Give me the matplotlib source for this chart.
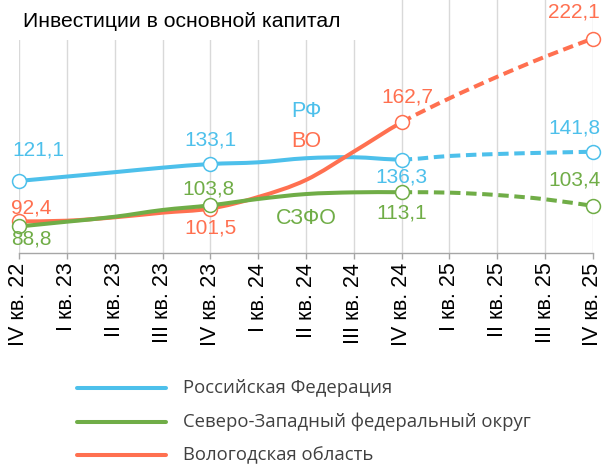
import numpy as np
import matplotlib
matplotlib.use('Agg')
import matplotlib.pyplot as plt
from matplotlib.path import Path
from matplotlib.patches import PathPatch, Rectangle
from matplotlib.lines import Line2D

# ---------------- data ----------------
quarters = ['IV кв. 22', 'I кв. 23', 'II кв. 23', 'III кв. 23', 'IV кв. 23',
            'I кв. 24', 'II кв. 24', 'III кв. 24', 'IV кв. 24',
            'I кв. 25', 'II кв. 25', 'III кв. 25', 'IV кв. 25']
rf = [121.1, 124.2, 127.3, 130.5, 133.1, 134.3, 137.2, 137.9, 136.3,
      138.8, 140.2, 141.1, 141.8]
szfo = [88.8, 92.2, 95.7, 100.5, 103.8, 108.3, 111.8, 113.0, 113.1,
        112.8, 111.1, 108.1, 103.4]
vo = [92.4, 92.9, 95.3, 98.6, 101.5, 109.7, 121.8, 141.9, 162.7,
      179.7, 195.0, 209.2, 222.1]
series_names = ['Российская Федерация', 'Северо-Западный федеральный округ',
                'Вологодская область']
short_names = ['РФ', 'СЗФО', 'ВО']
labeled_idx = [0, 4, 8, 12]
fact_end = 8  # last actual point; after it - forecast (dashed)
title = 'Инвестиции в основной капитал'

# ---------------- style ----------------
C_RF = '#4DC0EB'
C_SZ = '#70AD47'
C_VO = '#FF7050'
FONT = ['Liberation Sans', 'DejaVu Sans']

W, H = 602, 466
fig = plt.figure(figsize=(W / 100, H / 100), dpi=100)
ax = fig.add_axes([19 / W, 213 / H, 574 / W, 253 / H])
ax.set_xlim(0, len(quarters) - 1)
ax.set_ylim(70.0, 249.4)

x = np.arange(len(quarters))


def smooth_path(xs, ys, i0, i1):
    pts = np.column_stack([xs, ys]).astype(float)
    n = len(pts)
    verts = [tuple(pts[i0])]
    codes = [Path.MOVETO]
    for i in range(i0, i1):
        p0 = pts[max(i - 1, 0)]
        p1 = pts[i]
        p2 = pts[i + 1]
        p3 = pts[min(i + 2, n - 1)]
        c1 = p1 + (p2 - p0) / 6.0
        c2 = p2 - (p3 - p1) / 6.0
        verts += [tuple(c1), tuple(c2), tuple(p2)]
        codes += [Path.CURVE4] * 3
    return Path(verts, codes)


LW = 2.9
# drawing order: RF, VO, SZFO (green on top)
for vals, color, z in [(rf, C_RF, 3), (vo, C_VO, 4), (szfo, C_SZ, 5)]:
    v = np.array(vals)
    solid = smooth_path(x, v, 0, fact_end)
    dashed = smooth_path(x, v, fact_end, len(x) - 1)
    ax.add_patch(PathPatch(solid, fill=False, edgecolor=color, lw=LW,
                           capstyle='round', joinstyle='round', zorder=z))
    ax.add_patch(PathPatch(dashed, fill=False, edgecolor=color, lw=LW,
                           linestyle=(0, (2.6, 1.4)), capstyle='butt',
                           zorder=z))
    ax.plot(x[labeled_idx], v[labeled_idx], 'o', ms=10, mfc='white',
            mec=color, mew=1.1, zorder=z + 0.5, clip_on=False)

# data labels (offsets in points)
offsets = {
    'rf': [(14, 22), (0, 17), (0, -12.5), (-13.5, 17)],
    'sz': [(9, -9), (-1, 12), (0, -15), (-13.5, 19)],
    'vo': [(9, 10), (0, -14), (4, 18), (-13.5, 19)],
}
for key, vals, color in [('rf', rf, C_RF), ('sz', szfo, C_SZ), ('vo', vo, C_VO)]:
    for k, i in enumerate(labeled_idx):
        txt = f'{vals[i]:.1f}'.replace('.', ',')
        ax.annotate(txt, xy=(i, vals[i]), xytext=offsets[key][k],
                    textcoords='offset points', ha='center', va='center',
                    fontsize=15, color=color, family=FONT, zorder=10,
                    annotation_clip=False)

# series short labels
ax.text(6, 170.0, short_names[0], color=C_RF, fontsize=15.5, family=FONT,
        ha='center', va='center', zorder=10)
ax.text(6, 149.4, short_names[2], color=C_VO, fontsize=15.5, family=FONT,
        ha='center', va='center', zorder=10)
ax.text(6, 94.8, short_names[1], color=C_SZ, fontsize=15.5, family=FONT,
        ha='center', va='center', zorder=10)

# axes styling
ax.set_xticks(x)
ax.set_xticklabels(quarters, rotation=90, fontsize=15.5, family=FONT,
                   color='black')
ax.tick_params(axis='x', length=4, width=1, color='#A6A6A6', pad=3)
ax.tick_params(axis='y', left=False, labelleft=False)
ax.grid(axis='x', color='#D9D9D9', lw=1)
ax.grid(axis='y', visible=False)
ax.set_axisbelow(True)
for s in ['top', 'left', 'right']:
    ax.spines[s].set_visible(False)
ax.spines['bottom'].set_color('#A6A6A6')
ax.spines['bottom'].set_linewidth(1)

# white area behind title (hides gridlines there)
ax.add_patch(Rectangle((0, 1 - 40 / H), 380 / W, 40 / H,
                       transform=fig.transFigure, facecolor='white',
                       edgecolor='none', zorder=1, clip_on=False))
fig.text(23 / W, 1 - 27 / H, title, fontsize=15.2, family=FONT,
         va='baseline', ha='left', color='black')

# legend (manual)
for k, (name, color) in enumerate(zip(series_names, [C_RF, C_SZ, C_VO])):
    yy = 1 - (388 + 33.5 * k) / H
    fig.add_artist(Line2D([77 / W, 166 / W], [yy, yy], transform=fig.transFigure,
                          color=color, lw=2.9, solid_capstyle='round'))
    fig.text(183 / W, yy, name, fontsize=13.3, family=['Open Sans', 'DejaVu Sans'],
             va='center', ha='left', color='#404040')

fig.savefig('out.png', dpi=100)
